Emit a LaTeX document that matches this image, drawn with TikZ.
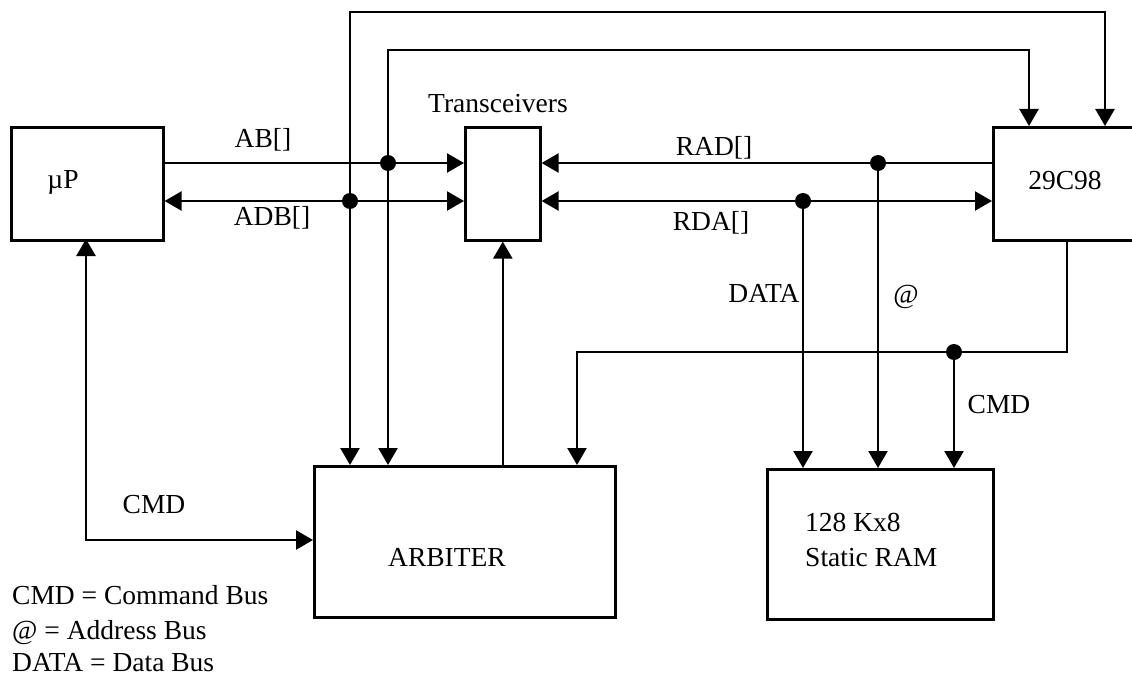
\documentclass[tikz,border=0pt]{standalone}
\usepackage{fontspec}
\setmainfont{Liberation Serif}
\usetikzlibrary{arrows.meta,calc}
\begin{document}
\begin{tikzpicture}[x=1pt,y=-1pt,
  every node/.style={font=\fontsize{27.5}{32}\selectfont},
  box/.style={draw,line width=2.6pt,inner sep=0pt,anchor=north west},
  wire/.style={line width=2.4pt},
  tip/.style={-{Triangle[length=17pt,width=19pt]}},
  tips/.style={{Triangle[length=17pt,width=19pt]}-{Triangle[length=17pt,width=19pt]}},
  dot/.style={circle,fill,inner sep=0pt,minimum size=16pt},
  lbl/.style={inner sep=0pt}]
\useasboundingbox (0,0) rectangle (1132,682);
\clip (0,0) rectangle (1132,682);

% boxes
\node[box,minimum width=152pt,minimum height=113pt] (up) at (10,126) {};
\node[box,minimum width=75pt,minimum height=113pt] (trx) at (464,126) {};
\node[box,minimum width=160pt,minimum height=113pt] (chip) at (992,126) {};
\node[box,minimum width=301pt,minimum height=151pt] (arb) at (313,465) {};
\node[box,minimum width=226pt,minimum height=150pt] (ram) at (766,468) {};

% box texts
\node[lbl] (tup) at (63,182) {µP};
\node[lbl] (ttrx) at (498,104) {Transceivers};
\node[lbl] (tchip) at (1065,180) {29C98};
\node[lbl] (tarb) at (447,557) {ARBITER};
\node[lbl,anchor=west] (tram1) at (805,522) {128 Kx8};
\node[lbl,anchor=west] (tram2) at (805,558) {Static RAM};

% levels
\coordinate (yAB) at (0,163);
\coordinate (yADB) at (0,201);
\coordinate (yCMD) at (0,540);

% junction dots
\node[dot] (dAB) at (388,163) {};
\node[dot] (dADB) at (350,201) {};
\node[dot] (dRAD) at (878,163) {};
\node[dot] (dRDA) at (803,201) {};
\node[dot] (dCMD) at (954,352) {};

% corners
\coordinate (top1) at (350,12);
\coordinate (top2) at (388,50);
\coordinate (c1) at (1105,126);
\coordinate (c2) at (1029,126);
\coordinate (cmdR) at (1067,352);
\coordinate (cmdL) at (577,352);
\coordinate (upB) at (86,239);

% horizontal buses
\draw[wire,tip] (up.east |- yAB) -- (trx.west |- yAB);
\draw[wire,tips] (up.east |- yADB) -- (trx.west |- yADB);
\draw[wire,tip] (chip.west |- yAB) -- (trx.east |- yAB);
\draw[wire,tips] (trx.east |- yADB) -- (chip.west |- yADB);

% loops over the top
\draw[wire,tips] (arb.north -| top1) -- (top1) -| (c1);
\draw[wire,tips] (arb.north -| top2) -- (top2) -| (c2);

% drops to RAM
\draw[wire,tip] (dRDA) -- (ram.north -| dRDA);
\draw[wire,tip] (dRAD) -- (ram.north -| dRAD);
\draw[wire,tip] (dCMD) -- (ram.north -| dCMD);

% CMD from 29C98 to arbiter
\draw[wire,tip] (chip.south -| cmdR) -- (cmdR) -- (cmdL) -- (arb.north -| cmdL);

% arbiter to transceivers
\draw[wire,tip] (arb.north -| trx.south) -- (trx.south);

% uP to arbiter
\draw[wire,tips] (upB) |- (arb.west |- yCMD);

% labels
\node[lbl] (lAB) at (263,140) {AB[]};
\node[lbl] (lADB) at (272,218) {ADB[]};
\node[lbl] (lRAD) at (714,148) {RAD[]};
\node[lbl] (lRDA) at (711,223) {RDA[]};
\node[lbl] (lDATA) at (764,293) {DATA};
\node[lbl] (lAT) at (906,297) {@};
\node[lbl] (lCMD1) at (999,405) {CMD};
\node[lbl] (lCMD2) at (154,505) {CMD};

% legend
\node[lbl,anchor=west] (leg1) at (12,595) {CMD = Command Bus};
\node[lbl,anchor=west] (leg2) at (12,633) {@ = Address Bus};
\node[lbl,anchor=west] (leg3) at (12,663) {DATA = Data Bus};
\end{tikzpicture}
\end{document}
